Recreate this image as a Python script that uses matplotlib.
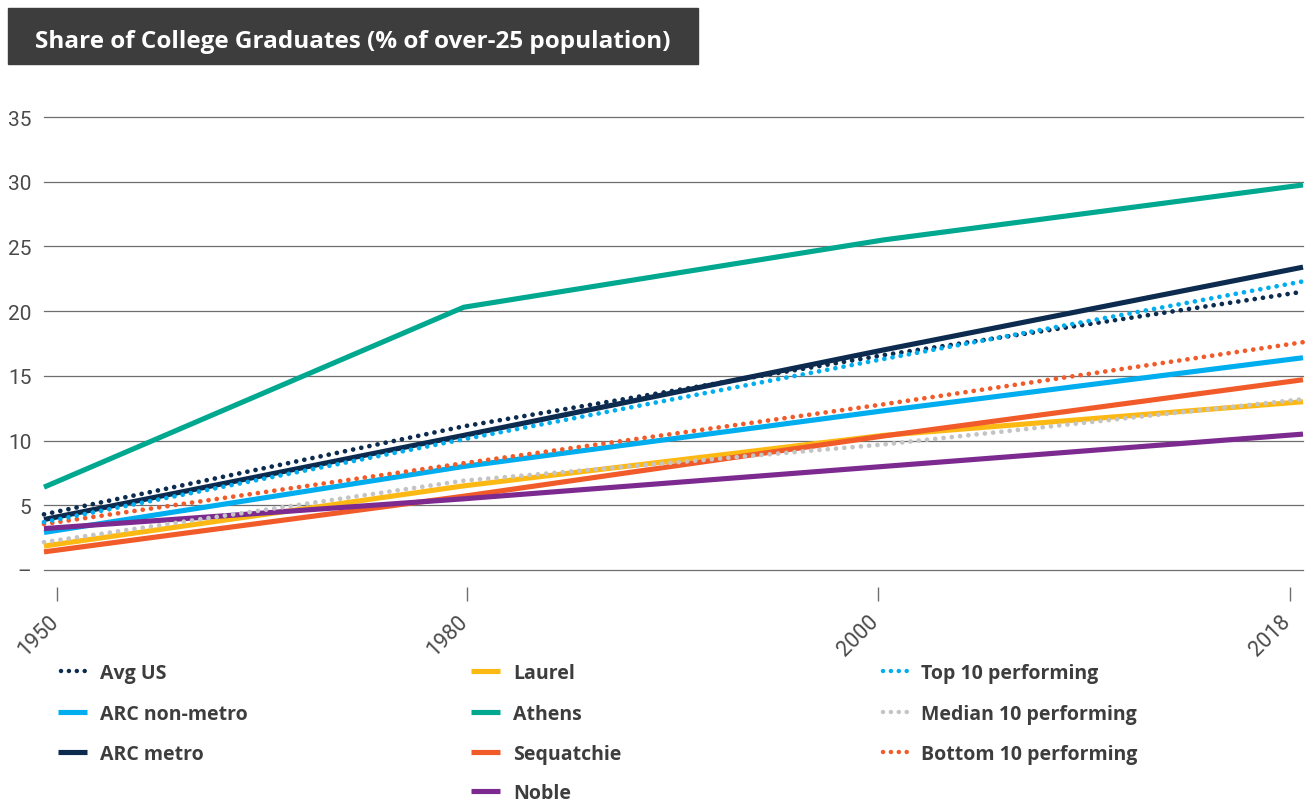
import matplotlib
matplotlib.use("Agg")
import matplotlib.pyplot as plt
from matplotlib.lines import Line2D
from matplotlib.transforms import ScaledTranslation

# ---- data -------------------------------------------------------------
years = ["1950", "1980", "2000", "2018"]

avg_us      = [4.3, 11.1, 16.6, 21.5]
arc_nonmetro = [2.9, 8.0, 12.3, 16.4]
arc_metro   = [3.9, 10.4, 17.0, 23.4]
laurel      = [1.85, 6.5, 10.4, 13.0]
athens      = [6.4, 20.3, 25.5, 29.75]
sequatchie  = [1.4, 5.7, 10.35, 14.7]
noble       = [3.2, 5.5, 8.0, 10.5]
top10       = [3.7, 10.1, 16.3, 22.3]
median10    = [2.15, 6.9, 9.7, 13.2]
bottom10    = [3.55, 8.25, 12.8, 17.6]

y_ticks = [0, 5, 10, 15, 20, 25, 30, 35]
y_labels = ["–", "5", "10", "15", "20", "25", "30", "35"]

# ---- style ------------------------------------------------------------
NAVY = "#0c2b4f"
LBLUE = "#00aeef"
TEAL = "#00a88f"
YELLOW = "#fdb913"
ORANGE = "#f15a29"
PURPLE = "#7d2a90"
GREY = "#c4c4c6"
TEXT = "#3d3d3d"

W, H = 1305, 803
fig = plt.figure(figsize=(W / 100, H / 100), dpi=100)
fig.patch.set_facecolor("white")


def fx(x):
    return x / W


def fy(y):
    return 1 - y / H


ax = fig.add_axes([fx(44), fy(571), fx(1303) - fx(44), fy(118) - fy(571)])

SOLID_LW = 3.7
DOT_LW = 3.4
dot_style = (0, (0.01, 1.75))

x = list(range(len(years)))

solid_series = [
    (athens, TEAL),
    (arc_metro, NAVY),
    (arc_nonmetro, LBLUE),
    (laurel, YELLOW),
    (sequatchie, ORANGE),
    (noble, PURPLE),
]
dotted_series = [
    (median10, GREY),
    (bottom10, ORANGE),
    (avg_us, NAVY),
    (top10, LBLUE),
]

for vals, col in solid_series:
    ax.plot(x, vals, color=col, lw=SOLID_LW, solid_capstyle="butt",
            clip_on=False, zorder=3)
for vals, col in dotted_series:
    ax.plot(x, vals, color=col, lw=DOT_LW, linestyle=dot_style,
            dash_capstyle="round", clip_on=False, zorder=4)

ax.set_xlim(0, len(years) - 1)
ax.set_ylim(0, 35)

for s in ax.spines.values():
    s.set_visible(False)
ax.spines["bottom"].set_position(("outward", 12))

ax.set_yticks(y_ticks)
ax.set_yticklabels(y_labels)
ax.yaxis.grid(True, color="#6e6e6e", lw=0.9)
for gl in ax.yaxis.get_gridlines():
    gl.set_clip_on(False)
ax.set_axisbelow(True)
ax.tick_params(axis="y", length=0, pad=9, labelsize=15, labelcolor="#4a4a4a")
for lab in ax.get_yticklabels():
    lab.set_fontfamily("Roboto")

ax.set_xticks([0.032, 1.008, 1.987, 2.969])
ax.set_xticklabels(years, rotation=45, ha="right", va="top")
ax.tick_params(axis="x", length=10, width=1, color="#6e6e6e", pad=7,
               labelsize=15.5, labelcolor="#4a4a4a")
for lab in ax.get_xticklabels():
    lab.set_fontfamily("Roboto")
    lab.set_transform(lab.get_transform() + ScaledTranslation(5 / 100, 0, fig.dpi_scale_trans))

# ---- title box ----------------------------------------------------------
fig.patches.append(plt.Rectangle((fx(8), fy(65)), fx(698) - fx(8), fy(9) - fy(65),
                                 transform=fig.transFigure, color="#3d3d3d",
                                 zorder=0))
fig.text(fx(35), fy(42), "Share of College Graduates (% of over-25 population)",
         color="white", fontsize=17.5, fontweight="bold", family="Open Sans",
         ha="left", va="center")

# ---- legend ------------------------------------------------------------
legend_cols = [
    (60, 100, [("Avg US", NAVY, True), ("ARC non-metro", LBLUE, False),
               ("ARC metro", NAVY, False)]),
    (473, 513, [("Laurel", YELLOW, False), ("Athens", TEAL, False),
                ("Sequatchie", ORANGE, False), ("Noble", PURPLE, False)]),
    (882, 921, [("Top 10 performing", LBLUE, True),
                ("Median 10 performing", GREY, True),
                ("Bottom 10 performing", ORANGE, True)]),
]
rows_y = [672, 713, 753, 792]
for hx, tx, items in legend_cols:
    for (label, col, dotted), yy in zip(items, rows_y):
        if dotted:
            h = Line2D([fx(hx + 1), fx(hx + 26)], [fy(yy), fy(yy)], color=col,
                       lw=DOT_LW * 0.95, linestyle=(0, (0.01, 1.75)),
                       dash_capstyle="round", transform=fig.transFigure)
        else:
            h = Line2D([fx(hx - 2), fx(hx + 27)], [fy(yy), fy(yy)], color=col,
                       lw=SOLID_LW, solid_capstyle="butt",
                       transform=fig.transFigure)
        fig.add_artist(h)
        fig.text(fx(tx), fy(yy), label, color=TEXT, fontsize=14,
                 fontweight="bold", family="Open Sans", ha="left",
                 va="center_baseline")

fig.savefig("out.png", dpi=100, facecolor="white")
